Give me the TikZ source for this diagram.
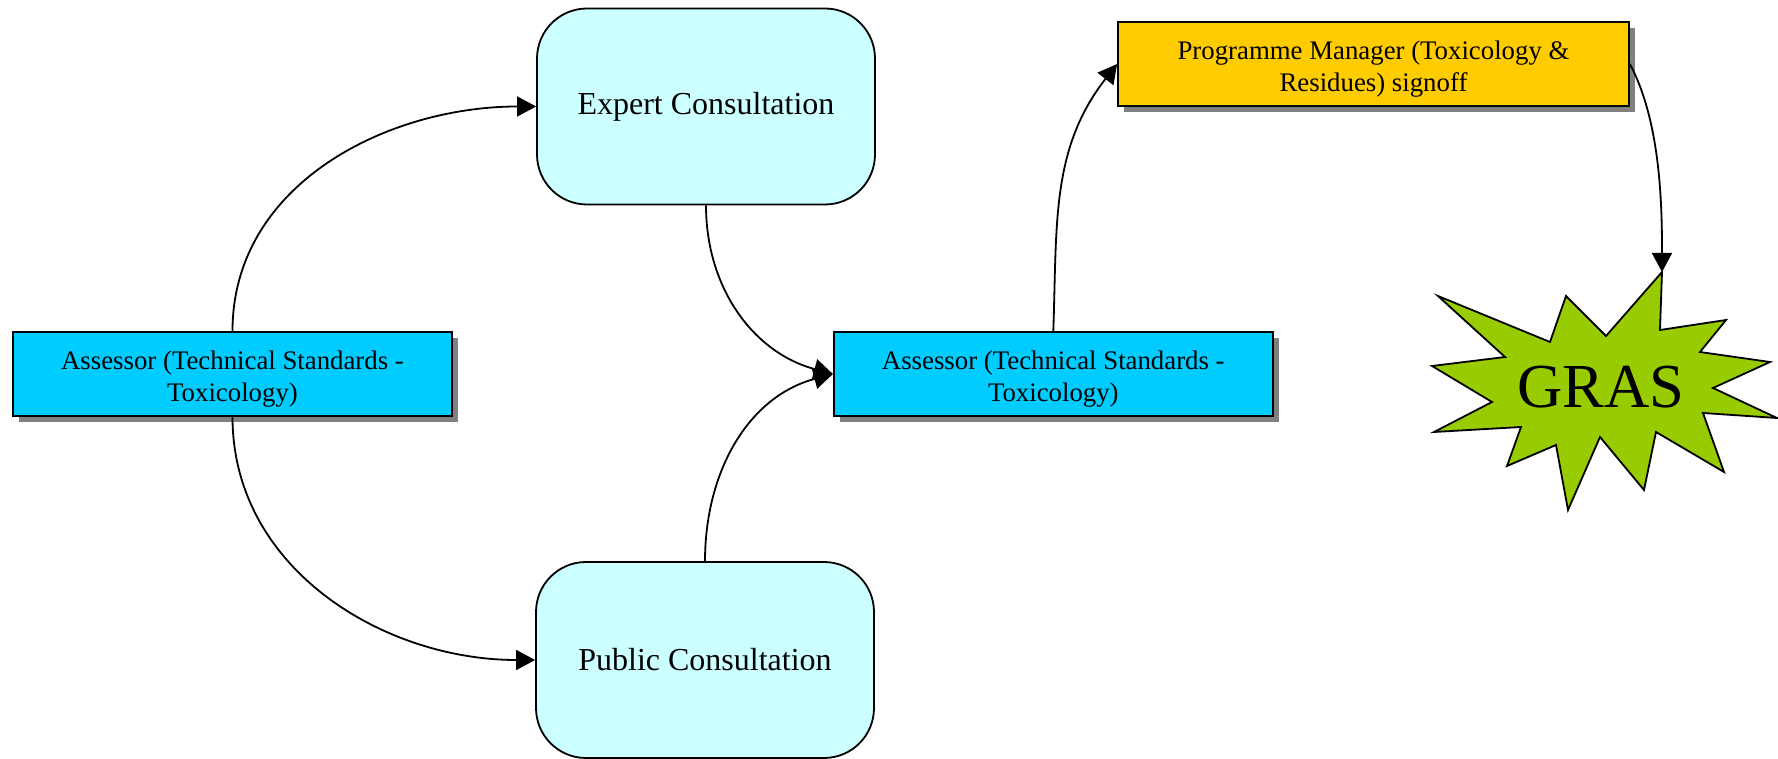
\documentclass[tikz,border=0pt]{standalone}
\usepackage{fontspec}
\setmainfont{Liberation Serif}
\usetikzlibrary{positioning,shadows,arrows.meta}
\definecolor{assessorblue}{HTML}{00CCFF}
\definecolor{consultcyan}{HTML}{CCFFFF}
\definecolor{managergold}{HTML}{FFCC00}
\definecolor{grasgreen}{HTML}{99CC00}
\definecolor{shadowgray}{HTML}{808080}

\begin{document}
\begin{tikzpicture}[
      x=0.5pt, y=-0.5pt,
      boxshadow/.style={
        drop shadow={shadow xshift=3pt, shadow yshift=-3pt, fill=shadowgray, opacity=1}
      },
      assessor/.style={
        draw=black, fill=assessorblue, boxshadow, align=center, inner sep=0pt,
        font=\fontsize{13.4}{16}\selectfont, text height=30pt, text depth=3pt,
        minimum width=219.5pt, minimum height=42pt
      },
      manager/.style={
        draw=black, fill=managergold, boxshadow, align=center, inner sep=0pt,
        font=\fontsize{13.4}{16}\selectfont, text height=31pt, text depth=3pt,
        minimum width=255.5pt, minimum height=42pt
      },
      consult/.style={
        draw=black, fill=consultcyan, rounded corners=25pt, inner sep=0pt,
        font=\fontsize{16}{19}\selectfont,
        minimum width=169pt, minimum height=98pt
      },
      burst/.style={draw=black, fill=grasgreen, line join=miter},
      line width=0.9pt, >={Triangle[length=9.5pt,width=10pt]}
      ]

  \useasboundingbox (0,0) rectangle (1778,759);

  % Define nodes
  \node[assessor]                      (a1) at (232.5,374) {Assessor (Technical Standards -\\Toxicology)};
  \node[assessor, right=190pt of a1]   (a2) {Assessor (Technical Standards -\\Toxicology)};
  \node[consult]                       (ec) at (706,106.5) {Expert Consultation};
  \node[consult]                       (pc) at (705,660) {Public Consultation};
  \node[manager]                       (pm) at (1373.5,64) {Programme Manager (Toxicology \&\\Residues) signoff};

  % GRAS burst
  \coordinate (gtop) at (1662,272);
  \draw[burst] (1438,296) -- (1550,342) -- (1566,296) -- (1606,336) -- (gtop)
    -- (1660,330) -- (1726,320) -- (1700,352) -- (1770,362) -- (1713,388)
    -- (1777,418) -- (1703,413) -- (1724,472) -- (1656,432) -- (1644,490)
    -- (1600,437) -- (1568,510) -- (1556,445) -- (1507,466) -- (1521,427)
    -- (1434,432) -- (1492,402) -- (1432,366) -- (1505,357) -- cycle;
  \node[font=\fontsize{31.3}{36}\selectfont, inner sep=0pt] (gras) at (1601,387) {GRAS};

  % Connect the nodes
  \draw[->] (a1.north) to[out=90, in=180]  (ec.west);
  \draw[->] (a1.south) to[out=-90, in=180] (pc.west);
  \draw[->] (ec.south) to[out=-90, in=165] (a2.west);
  \draw[->] (pc.north) to[out=90, in=195]  (a2.west);
  \draw[->] (a2.north) to[out=88, in=232]  (pm.west);
  \draw[->] (pm.east)  to[out=-62, in=90, looseness=0.8] (gtop);

\end{tikzpicture}
\end{document}
